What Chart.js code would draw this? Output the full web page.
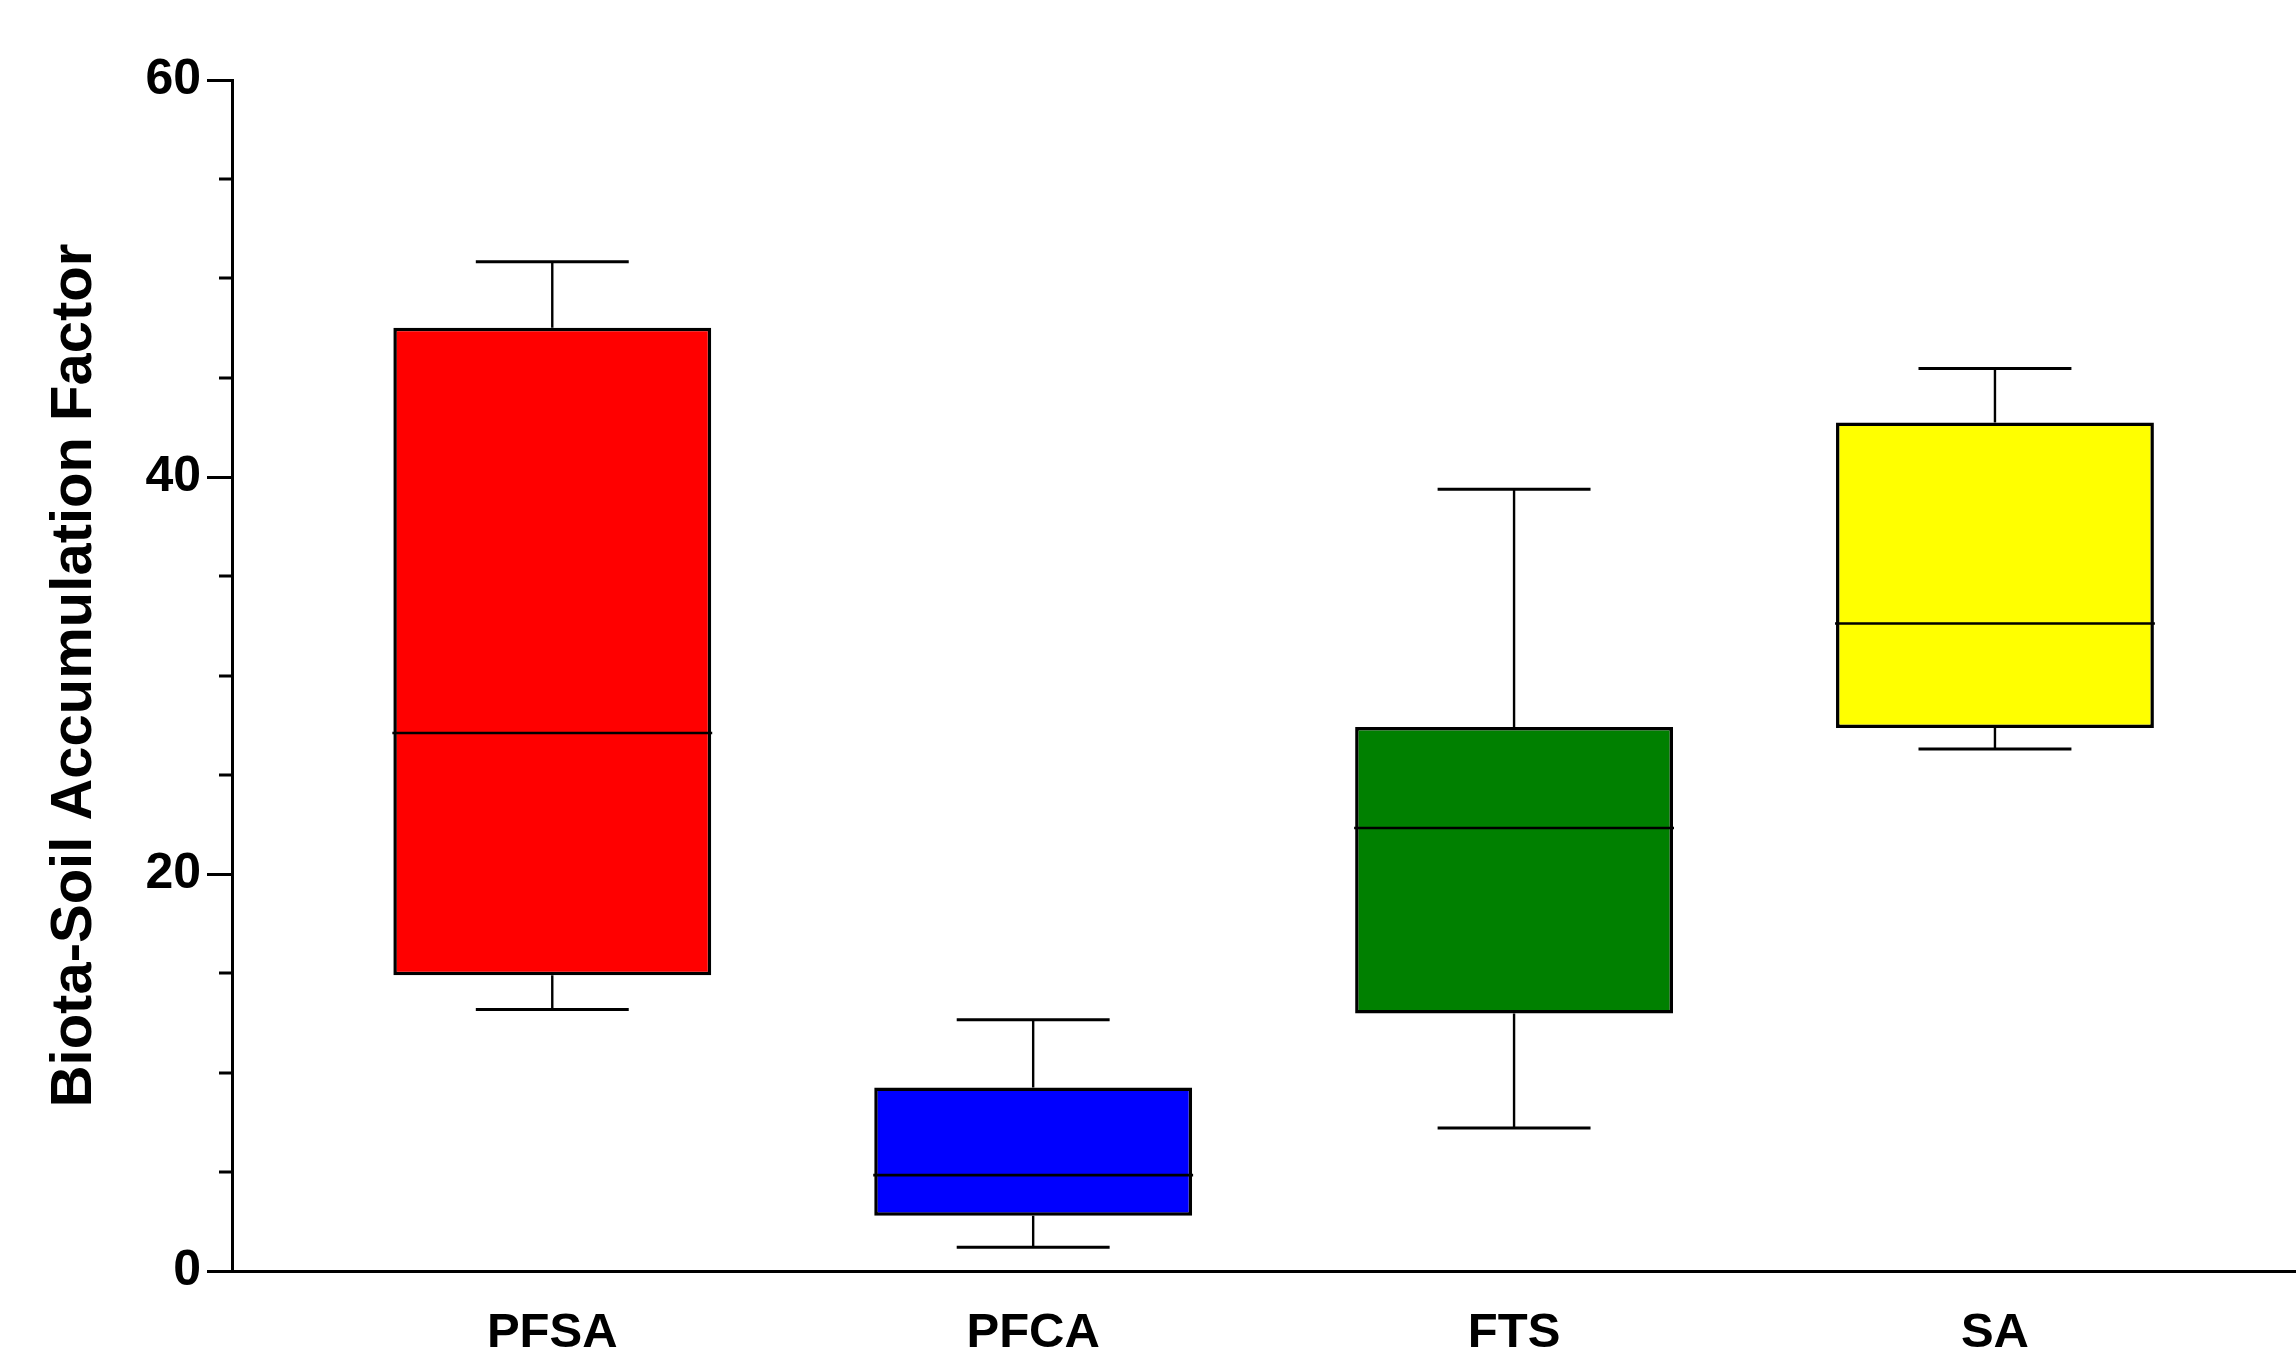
<!DOCTYPE html>
<html>
<head>
<meta charset="utf-8">
<script src="https://cdn.jsdelivr.net/npm/chart.js@4.4.1/dist/chart.umd.min.js"></script>
<style>
html,body{margin:0;padding:0;background:#fff;}
#wrap{width:2296px;height:1361px;}
</style>
</head>
<body>
<div id="wrap"><canvas id="c" width="2296" height="1361"></canvas></div>
<script>
const categories = ['PFSA', 'PFCA', 'FTS', 'SA'];
const whiskerLow = [13.17, 1.2, 7.2, 26.3];
const q1Values = [14.9, 2.78, 12.97, 27.36];
const medianValues = [27.1, 4.83, 22.32, 32.62];
const q3Values = [47.52, 9.24, 27.4, 42.75];
const whiskerHigh = [50.84, 12.66, 39.38, 45.47];
const boxColors = ['#FF0000', '#0000FF', '#008000', '#FFFF00'];
const yTickLabels = [0, 20, 40, 60];

const BOX_FRACTION = 0.661;
const CAP_HALF = 0.159;

const boxPlugin = {
  id: 'boxWhiskers',
  afterDatasetsDraw(chart) {
    const ctx = chart.ctx;
    const xs = chart.scales.x, ys = chart.scales.y;
    const meta = chart.getDatasetMeta(0);
    ctx.save();
    ctx.strokeStyle = '#000';
    ctx.lineCap = 'butt';
    categories.forEach((c, i) => {
      const cx = xs.getPixelForValue(i);
      const capL = xs.getPixelForValue(i - CAP_HALF);
      const capR = xs.getPixelForValue(i + CAP_HALF);
      const yMin = ys.getPixelForValue(whiskerLow[i]);
      const yQ1 = ys.getPixelForValue(q1Values[i]);
      const yMed = ys.getPixelForValue(medianValues[i]);
      const yQ3 = ys.getPixelForValue(q3Values[i]);
      const yMax = ys.getPixelForValue(whiskerHigh[i]);
      ctx.lineWidth = 2.4;
      ctx.beginPath();
      ctx.moveTo(cx, yQ3); ctx.lineTo(cx, yMax);
      ctx.moveTo(cx, yQ1); ctx.lineTo(cx, yMin);
      ctx.stroke();
      ctx.lineWidth = 3;
      ctx.beginPath();
      ctx.moveTo(capL, yMax); ctx.lineTo(capR, yMax);
      ctx.moveTo(capL, yMin); ctx.lineTo(capR, yMin);
      ctx.stroke();
      const bar = meta.data[i];
      const half = bar.width / 2;
      ctx.lineWidth = 2.6;
      ctx.beginPath();
      ctx.moveTo(bar.x - half - 1, yMed); ctx.lineTo(bar.x + half + 1, yMed);
      ctx.stroke();
    });
    ctx.restore();
  },
  afterDraw(chart) {
    const ctx = chart.ctx;
    const ys = chart.scales.y;
    const left = chart.chartArea.left;
    ctx.save();
    ctx.strokeStyle = '#000';
    ctx.lineWidth = 3;
    ctx.beginPath();
    for (let v = 5; v < 60; v += 5) {
      if (yTickLabels.includes(v)) continue;
      const y = Math.round(ys.getPixelForValue(v));
      ctx.moveTo(left - 13, y); ctx.lineTo(left, y);
    }
    ctx.stroke();
    ctx.restore();
  }
};

const font = 'Liberation Sans, Arial, Helvetica, sans-serif';

new Chart(document.getElementById('c'), {
  type: 'bar',
  data: {
    datasets: [{
      data: categories.map((c, i) => ({ x: i, y: [q1Values[i], q3Values[i]] })),
      backgroundColor: boxColors,
      borderColor: '#000',
      borderWidth: 3.5,
      borderSkipped: false,
      barPercentage: BOX_FRACTION,
      categoryPercentage: 1
    }]
  },
  options: {
    responsive: false,
    animation: false,
    devicePixelRatio: 1,
    layout: { padding: { left: 0, right: 0, top: 80, bottom: 0 } },
    plugins: { legend: { display: false }, tooltip: { enabled: false } },
    scales: {
      x: {
        type: 'linear',
        offset: false,
        min: -0.666,
        max: 3.626,
        afterBuildTicks(scale) { scale.ticks = categories.map((c, i) => ({ value: i })); },
        afterFit(scale) { scale.height = 90; },
        ticks: {
          autoSkip: false,
          maxRotation: 0,
          padding: 33,
          color: '#000',
          font: { family: font, size: 49, weight: 'bold' },
          callback: (v) => categories[v]
        },
        grid: { drawOnChartArea: false, drawTicks: false },
        border: { display: true, color: '#000', width: 3 }
      },
      y: {
        min: 0,
        max: 60,
        afterFit(scale) { scale.width = 232; },
        ticks: {
          stepSize: 5,
          padding: 6,
          color: '#000',
          font: { family: font, size: 50, weight: 'bold' },
          callback: (v) => yTickLabels.includes(v) ? String(v) : ''
        },
        grid: {
          drawOnChartArea: false,
          drawTicks: true,
          tickLength: 25,
          tickWidth: 3,
          tickColor: (ctx) => (ctx.tick && yTickLabels.includes(ctx.tick.value)) ? '#000' : 'rgba(0,0,0,0)'
        },
        border: { display: true, color: '#000', width: 3 },
        title: {
          display: true,
          text: 'Biota-Soil Accumulation Factor',
          color: '#000',
          font: { family: font, size: 58, weight: 'bold' },
          padding: { top: 40, bottom: 0 }
        }
      }
    }
  },
  plugins: [boxPlugin]
});
</script>
</body>
</html>
